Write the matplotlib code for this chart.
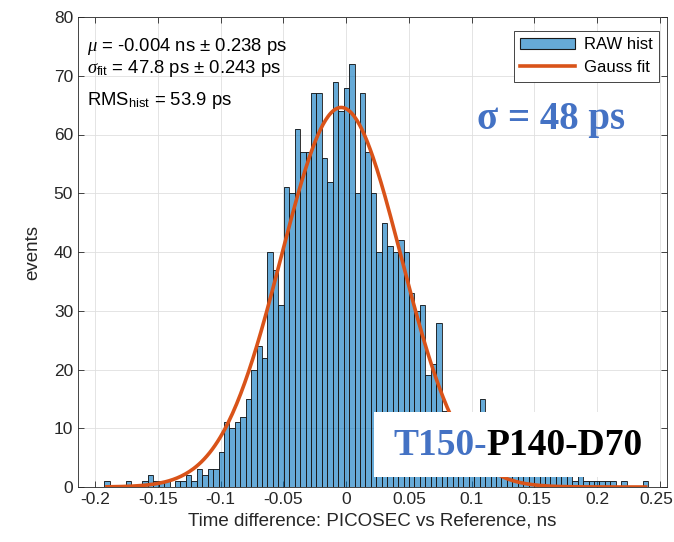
import numpy as np
import matplotlib
matplotlib.use('Agg')
import matplotlib.pyplot as plt
import matplotlib.transforms as mtransforms
from matplotlib.patches import Rectangle

plt.rcParams['font.family'] = 'Liberation Sans'
plt.rcParams['mathtext.fontset'] = 'custom'
plt.rcParams['mathtext.rm'] = 'Liberation Sans'
plt.rcParams['mathtext.it'] = 'Liberation Serif:italic'

# histogram: 100 bins, counts
bin_lo = -0.1928
bin_w = 0.004336
counts = [1, 0, 0, 0, 1, 0, 0, 1, 2, 1,
          1, 1, 0, 1, 1, 2, 1, 3, 2, 3,
          3, 6, 11, 10, 11, 12, 15, 20, 24, 22,
          40, 37, 31, 51, 50, 61, 57, 57, 67, 67,
          56, 52, 69, 64, 68, 72, 50, 67, 57, 50,
          40, 45, 41, 40, 42, 40, 33, 30, 31, 19,
          21, 28, 13, 10, 9, 8, 7, 6, 6, 15,
          5, 4, 5, 3, 4, 3, 2, 3, 2, 2,
          3, 2, 2, 2, 2, 2, 1, 2, 1, 1,
          1, 1, 1, 1, 0, 1, 0, 0, 0, 1]

# gauss fit parameters
fit_mu = -0.004
fit_sigma = 0.0478
fit_amp = 64.6

xticks = [-0.2, -0.15, -0.1, -0.05, 0, 0.05, 0.1, 0.15, 0.2, 0.25]
xticklabels = ['-0.2', '-0.15', '-0.1', '-0.05', '0', '0.05', '0.1', '0.15', '0.2', '0.25']
yticks = [0, 10, 20, 30, 40, 50, 60, 70, 80]

edges = bin_lo + bin_w * np.arange(len(counts) + 1)
centers = 0.5 * (edges[:-1] + edges[1:])

fig = plt.figure(figsize=(6.74, 5.42), dpi=100)
ax = fig.add_axes([78 / 674, 55 / 542, 589 / 674, 470 / 542])

ax.hist(centers, bins=edges, weights=counts, color='#0072BD', alpha=0.6,
        edgecolor='none', zorder=2, label='RAW hist')
ax.hist(centers, bins=edges, weights=counts, histtype='bar', fill=False,
        edgecolor='#1a1a1a', linewidth=0.7, alpha=0.9, zorder=2.1)
# legend proxy for the histogram
hproxy = Rectangle((0, 0), 1, 1, facecolor='#66AAD7', edgecolor='#1a1a1a', linewidth=0.8)

xf = np.linspace(centers[0], centers[-1], 400)
yf = fit_amp * np.exp(-(xf - fit_mu) ** 2 / (2 * fit_sigma ** 2))
line, = ax.plot(xf, yf, color='#D95319', linewidth=2.6, zorder=3)

ax.set_xlim(-0.2137, 0.2556)
ax.set_ylim(0, 80)
ax.set_xticks(xticks)
ax.set_xticklabels(xticklabels)
ax.set_yticks(yticks)
ax.tick_params(direction='in', top=True, right=True, labelsize=12.5,
               colors='#262626', length=4, width=0.6)
# last label sits on the figure edge, nudge it in a little
last = ax.get_xticklabels()[-1]
last.set_transform(last.get_transform() +
                   mtransforms.ScaledTranslation(-4 / 100, 0, fig.dpi_scale_trans))
for s in ax.spines.values():
    s.set_color('#262626')
    s.set_linewidth(0.6)
ax.grid(True, color='#dfdfdf', linewidth=0.6, zorder=0)
ax.set_axisbelow(True)

ax.set_xlabel('Time difference: PICOSEC vs Reference, ns', fontsize=13.5, color='#262626')
ax.set_ylabel('events', fontsize=13.5, color='#262626', labelpad=9)

leg = ax.legend([hproxy, line], ['RAW hist', 'Gauss fit'], loc='upper right',
                bbox_to_anchor=(0.9864, 0.9709), borderaxespad=0, fontsize=12,
                handlelength=3.3, handletextpad=0.5, borderpad=0.4, labelspacing=0.45,
                fancybox=False, framealpha=1, edgecolor='#262626')
leg.get_frame().set_linewidth(0.6)

# fit results
ax.text(0.015, 0.937, r'$\mu$ = -0.004 ns $\pm$ 0.238 ps', transform=ax.transAxes,
        fontsize=13.3, va='center', ha='left')
ax.text(0.015, 0.890, r'$\sigma_{\rm fit}$ = 47.8 ps $\pm$ 0.243 ps', transform=ax.transAxes,
        fontsize=13.3, va='center', ha='left')
ax.text(0.015, 0.822, r'RMS$_{\rm hist}$ = 53.9 ps', transform=ax.transAxes,
        fontsize=13.3, va='center', ha='left')

ax.text(0.803, 0.781, '\u03c3 = 48 ps', transform=ax.transAxes, fontsize=28,
        fontweight='bold', family='Liberation Serif', color='#4472C4',
        ha='center', va='center')

# sample label box
ax.add_patch(Rectangle((0.5026, 0.0213), 0.4854, 0.1387, transform=ax.transAxes,
                       facecolor='white', edgecolor='none', zorder=5))
t1 = ax.text(0.535, 0.052, 'T150-', transform=ax.transAxes, fontsize=27,
             fontweight='bold', family='Liberation Serif', color='#4472C4',
             ha='left', va='bottom', zorder=6)
ax.annotate('P140-D70', xy=(1, 0), xycoords=t1, fontsize=27, fontweight='bold',
            family='Liberation Serif', color='black', ha='left', va='bottom', zorder=6)

fig.savefig('out.png', dpi=100)
